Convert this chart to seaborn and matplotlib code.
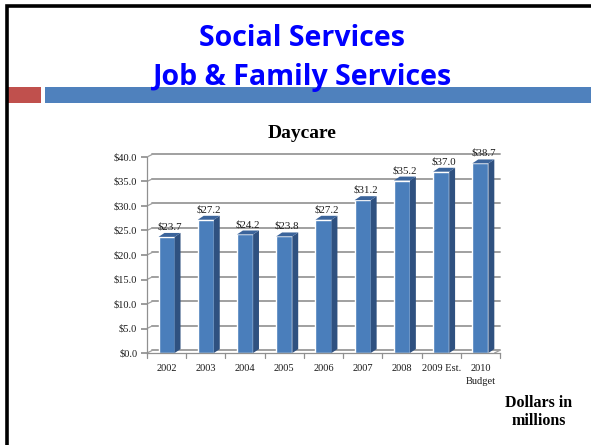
import matplotlib
matplotlib.use("Agg")
import matplotlib.pyplot as plt
import seaborn as sns
import pandas as pd
from matplotlib.patches import Polygon, Rectangle
from matplotlib.lines import Line2D

# Daycare spending, dollars in millions
years = ["2002", "2003", "2004", "2005", "2006", "2007", "2008", "2009 Est.", "2010\nBudget"]
spending = [23.7, 27.2, 24.2, 23.8, 27.2, 31.2, 35.2, 37.0, 38.7]
y_ticks = [0, 5, 10, 15, 20, 25, 30, 35, 40]

df = pd.DataFrame({"year": years, "spending": spending})

sns.set_theme(style="white")
plt.rcParams["font.family"] = ["Liberation Serif", "DejaVu Serif"]

W, H = 591, 445
fig = plt.figure(figsize=(W / 100, H / 100), dpi=100)
fig.patch.set_facecolor("white")

# slide frame (left and top edges)
fig.add_artist(Line2D([7 / W, 7 / W, 1], [0, 1 - 6 / H, 1 - 6 / H], color="black",
                      lw=2.6, solid_joinstyle="miter"))

# accent bars under the heading
fig.add_artist(Rectangle((6 / W, 1 - 103 / H), 35 / W, 15.5 / H, transform=fig.transFigure,
                         facecolor="#C0504D", edgecolor="none", zorder=1))
fig.add_artist(Rectangle((45 / W, 1 - 103 / H), (W - 45) / W, 15.5 / H, transform=fig.transFigure,
                         facecolor="#4F81BD", edgecolor="none", zorder=1))

fig.text(302 / W, 1 - 38 / H, "Social Services", ha="center", va="center",
         fontsize=20.5, fontweight="bold", color="#0000FF",
         family=["Open Sans", "DejaVu Sans"], zorder=3)
fig.text(302 / W, 1 - 78 / H, "Job & Family Services", ha="center", va="center",
         fontsize=20.5, fontweight="bold", color="#0000FF",
         family=["Open Sans", "DejaVu Sans"], zorder=3)

# chart area
ax = fig.add_axes([147 / W, 1 - 353 / H, (500 - 147) / W, (353 - 157) / H])
ax.set_facecolor("none")
sns.barplot(data=df, x="year", y="spending", ax=ax, width=0.41,
            color="#4A7EBB", saturation=1, zorder=4)

ax.set_xlim(-0.5, 8.5)
ax.set_ylim(0, 40)

# back-wall gridlines, offset for depth
gx, gy = 0.14, 0.55
for v in y_ticks:
    ax.plot([-0.5 + gx, 8.5], [v + gy, v + gy], color="#A0A0A0", lw=1.4,
            zorder=1, clip_on=False)
    ax.plot([-0.5, -0.5 + gx], [v, v + gy], color="#A0A0A0", lw=0.9,
            zorder=1, clip_on=False)
ax.plot([8.5 - gx, 8.5], [0, gy], color="#A0A0A0", lw=0.9, clip_on=False, zorder=1)

# side and top faces of each bar
dx, dy = 0.15, 0.8
for p, v in zip(ax.patches, spending):
    x0 = p.get_x()
    x1 = x0 + p.get_width()
    h = p.get_height()
    side = Polygon([(x1, 0), (x1 + dx, dy), (x1 + dx, h + dy), (x1, h)],
                   closed=True, facecolor="#2F5180", edgecolor="none", zorder=5)
    top = Polygon([(x0, h), (x0 + dx, h + dy), (x1 + dx, h + dy), (x1, h)],
                  closed=True, facecolor="#3B649B", edgecolor="none", zorder=5)
    ax.add_patch(side)
    ax.add_patch(top)
    ax.text((x0 + x1 + dx) / 2, h + dy + 0.3, f"${v:.1f}", ha="center", va="bottom",
            fontsize=7.8, color="#1a1a1a", zorder=6, clip_on=False)

for s in ["top", "right"]:
    ax.spines[s].set_visible(False)
for s in ["left", "bottom"]:
    ax.spines[s].set_color("#909090")
    ax.spines[s].set_linewidth(0.9)
ax.spines["bottom"].set_zorder(6)

ax.set_yticks(y_ticks)
ax.set_yticklabels([f"${v:.1f}" for v in y_ticks])
ax.set_xticks(range(len(years)))
ax.set_xticklabels(years)
ax.tick_params(axis="y", length=4, color="#909090", labelsize=7.5, pad=3,
               direction="out", left=True, labelcolor="#1a1a1a")
ax.tick_params(axis="x", length=0, labelsize=7.5, pad=8, labelcolor="#1a1a1a")
for lbl in ax.get_xticklabels():
    lbl.set_verticalalignment("top")
    lbl.set_linespacing(1.5)
# category boundary ticks below the floor
for k in range(len(years) + 1):
    ax.plot([k - 0.5, k - 0.5], [0, -1.0], color="#909090", lw=0.9, clip_on=False)
ax.set_xlabel("")
ax.set_ylabel("")

fig.text(302 / W, 1 - 134 / H, "Daycare", ha="center", va="center",
         fontsize=14, fontweight="bold", color="black")
fig.text(539 / W, 1 - 412 / H, "Dollars in\nmillions", ha="center", va="center",
         fontsize=11.5, fontweight="bold", color="black", linespacing=1.1)

fig.savefig("out.png", dpi=100)
